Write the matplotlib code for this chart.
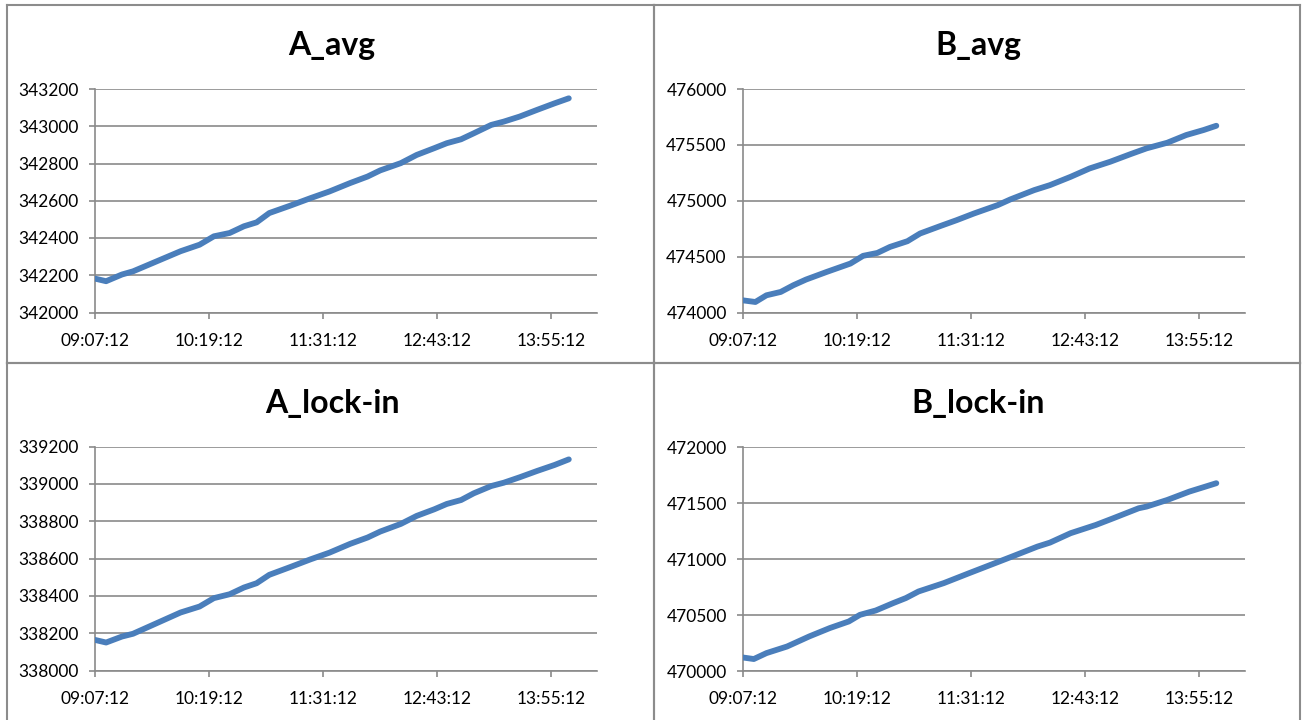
import matplotlib
matplotlib.use("Agg")
import matplotlib.pyplot as plt
from matplotlib.lines import Line2D

# ---- data (minutes after 09:07:12) ----
tick_labels = ["09:07:12", "10:19:12", "11:31:12", "12:43:12", "13:55:12"]
tick_minutes = [0, 72, 144, 216, 288]
x_max_minutes = 316.8  # axis end (14:24:00)

t_a = [0, 7, 17, 24, 39, 54, 66, 75, 85, 94, 102, 110, 123, 136, 148, 161, 172,
       180, 193, 203, 214, 222, 231, 239, 250, 258, 268, 279, 290, 299]
a_avg = [342182, 342168, 342204, 342221, 342275, 342329, 342364, 342409, 342427,
         342463, 342484, 342534, 342573, 342614, 342650, 342695, 342730, 342763,
         342802, 342846, 342882, 342909, 342930, 342962, 343007, 343025, 343052,
         343088, 343123, 343150]
a_lock = [338164, 338150, 338182, 338197, 338254, 338311, 338343, 338388, 338409,
          338445, 338468, 338513, 338554, 338596, 338632, 338679, 338713, 338745,
          338786, 338829, 338864, 338893, 338914, 338950, 338989, 339007, 339036,
          339070, 339102, 339132]

t_b_avg = [0, 8, 15, 24, 32, 40, 53, 68, 76, 85, 93, 104, 112, 125, 135, 146, 161,
           169, 184, 194, 207, 219, 232, 245, 255, 268, 280, 291, 299]
b_avg = [474109, 474094, 474154, 474184, 474244, 474295, 474363, 474438, 474507,
         474533, 474587, 474638, 474707, 474775, 474826, 474886, 474961, 475012,
         475095, 475140, 475214, 475289, 475349, 475418, 475469, 475519, 475588,
         475633, 475671]

t_b_lock = [0, 7, 15, 28, 42, 55, 67, 74, 84, 95, 103, 111, 127, 143, 162, 170,
            186, 194, 207, 223, 234, 250, 255, 268, 282, 292, 299]
b_lock = [470121, 470107, 470160, 470219, 470309, 470384, 470443, 470502, 470541,
          470607, 470652, 470711, 470786, 470875, 470979, 471023, 471112, 471148,
          471232, 471306, 471366, 471455, 471470, 471529, 471604, 471648, 471679]

titles = ["A_avg", "B_avg", "A_lock-in", "B_lock-in"]
y_ticks = [
    [342000, 342200, 342400, 342600, 342800, 343000, 343200],
    [474000, 474500, 475000, 475500, 476000],
    [338000, 338200, 338400, 338600, 338800, 339000, 339200],
    [470000, 470500, 471000, 471500, 472000],
]
series = [(t_a, a_avg), (t_b_avg, b_avg), (t_a, a_lock), (t_b_lock, b_lock)]

# ---- figure ----
W, H = 1302, 720
fig = plt.figure(figsize=(W / 100, H / 100), dpi=100)
fig.patch.set_facecolor("white")
plt.rcParams["font.family"] = ["Lato", "DejaVu Sans"]

LINE = "#4a7ebb"
GRID = "#8a8a8a"

# panel borders (pixels)
border_kw = dict(color="#8c8c8c", lw=1.5, transform=fig.transFigure)
def fx(px):
    return px / W
def fy(py):
    return 1 - py / H
for (x0, x1, y0, y1) in [(7, 654, 5, 363), (654, 1300, 5, 363),
                         (7, 654, 363, 722), (654, 1300, 363, 722)]:
    for xs, ys in [((x0, x1), (y0, y0)), ((x0, x1), (y1, y1)),
                   ((x0, x0), (y0, y1)), ((x1, x1), (y0, y1))]:
        fig.add_artist(Line2D([fx(xs[0]), fx(xs[1])], [fy(ys[0]), fy(ys[1])], **border_kw))

# axes boxes in pixels: left, right, top, bottom
boxes = [(95, 597, 89, 312.5), (742.7, 1244.5, 89, 312.5),
         (95, 597, 446.7, 670.5), (742.7, 1244.5, 447.3, 671)]
panel_centers = [332, 978, 332, 978]
title_y = [45, 45, 403, 403]

for i, ((l, r, t, b), (tx, vals)) in enumerate(zip(boxes, series)):
    ax = fig.add_axes([fx(l), fy(b), (r - l) / W, (b - t) / H])
    ax.plot(tx, vals, color=LINE, lw=4.2, solid_capstyle="round",
            solid_joinstyle="round", zorder=3)
    ax.set_xlim(0, x_max_minutes)
    ax.set_ylim(y_ticks[i][0], y_ticks[i][-1])
    ax.set_yticks(y_ticks[i])
    ax.set_yticklabels([str(v) for v in y_ticks[i]])
    ax.set_xticks(tick_minutes)
    ax.set_xticklabels(tick_labels)
    ax.grid(axis="y", color=GRID, lw=1.2, zorder=1)
    ax.set_axisbelow(True)
    for s in ["top", "right"]:
        ax.spines[s].set_visible(False)
    for s in ["left", "bottom"]:
        ax.spines[s].set_color(GRID)
        ax.spines[s].set_linewidth(1.2)
    ax.tick_params(axis="both", colors=GRID, length=4, width=1.2,
                   labelcolor="black", labelsize=12.5)
    ax.tick_params(axis="y", pad=7.5)
    ax.tick_params(axis="x", pad=10.5)
    fig.text(fx(panel_centers[i]), fy(title_y[i]), titles[i], ha="center",
             va="center", fontsize=23, fontweight="bold")

fig.savefig("out.png", dpi=100, facecolor="white")
